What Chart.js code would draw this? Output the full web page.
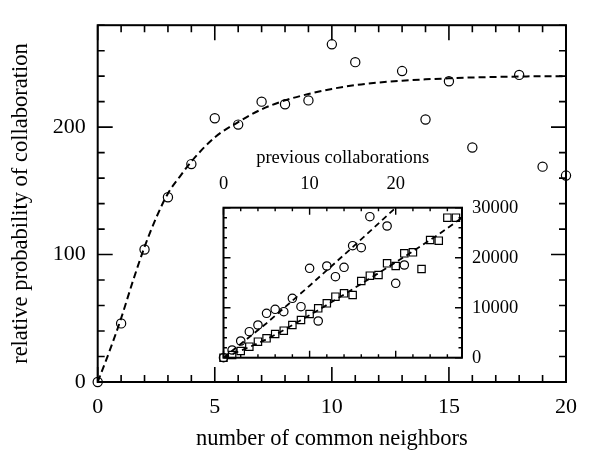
<!DOCTYPE html>
<html>
<head>
<meta charset="utf-8">
<script src="https://cdn.jsdelivr.net/npm/chart.js@4.4.0/dist/chart.umd.min.js"></script>
<style>
html, body { margin: 0; padding: 0; background: #fff; }
#wrap { position: relative; width: 589px; height: 455px; }
#wrap canvas { position: absolute; left: 0; top: 0; }
</style>
</head>
<body>
<div id="wrap">
  <canvas id="main" width="589" height="455"></canvas>
  <canvas id="inset" width="589" height="455"></canvas>
</div>
<script>
// main panel: relative probability vs number of common neighbors
var neighborsX = [0, 1, 2, 3, 4, 5, 6, 7, 8, 9, 10, 11, 13, 14, 15, 16, 18, 19, 20];
var probY = [0, 46, 104, 145, 171, 207, 202, 220, 218, 221, 265, 251, 244, 206, 236, 184, 241, 169, 162];
// dashed fit curve
var fitX = [0, 0.5, 1, 1.5, 2, 2.5, 3, 3.5, 4, 5, 6, 7, 8, 9, 10, 11, 12, 13, 14, 15, 16, 17, 18, 19, 20];
var fitY = [0, 24, 50, 79, 106, 129, 148, 161, 173, 192, 204, 214, 221, 226, 230, 233, 235, 236.5, 237.5, 238.3, 239, 239.4, 239.7, 240, 240];
var mainXTicks = [0, 5, 10, 15, 20];
var mainYTicks = [0, 100, 200];

// inset: previous collaborations
var circX = [0, 1, 2, 3, 4, 5, 6, 7, 8, 9, 10, 11, 12, 13, 14, 15, 16, 17, 19, 20, 21];
var circY = [0, 1540, 3340, 5200, 6540, 8880, 9680, 9200, 11880, 10200, 17880, 7340, 18340, 16200, 18080, 22400, 22000, 28200, 26340, 14880, 18540];
var sqX = [0, 1, 2, 3, 4, 5, 6, 7, 8, 9, 10, 11, 12, 13, 14, 15, 16, 17, 18, 19, 20, 21, 22, 23, 24, 25, 26, 27];
var sqY = [0, 540, 1340, 2200, 3200, 3880, 4740, 5400, 6540, 7540, 8740, 9880, 10880, 12200, 12880, 12540, 15340, 16400, 16540, 18880, 18340, 20880, 21080, 17740, 23540, 23400, 28000, 28000];
var circFitX = [0, 5, 10, 15, 20];
var circFitY = [0, 6900, 14400, 22100, 30000];
var sqFitX = [0, 5, 10, 15, 20, 25, 27.7];
var sqFitY = [0, 3700, 8500, 13700, 19100, 24700, 28000];
var insetXTicks = [0, 10, 20];
var insetYTicks = [0, 10000, 20000, 30000];

var serif = 'Liberation Serif';

function pts(xs, ys) {
  return xs.map(function(x, i) { return { x: x, y: ys[i] }; });
}
function range(a, b, step) {
  var out = [];
  for (var v = a; v <= b + 1e-9; v += step) out.push(v);
  return out;
}
function plain(v) { return String(v); }

// box around the plot with inward ticks on all four sides
function frameTicks(spec) {
  return {
    id: 'frameTicks',
    afterDraw: function(chart) {
      var ctx = chart.ctx, a = chart.chartArea;
      var sx = chart.scales[spec.x], sy = chart.scales[spec.y];
      ctx.save();
      ctx.strokeStyle = '#000';
      ctx.lineWidth = spec.tickWidth;
      ctx.beginPath();
      spec.xMinor.forEach(function(v) {
        var len = (Math.abs(v % spec.xMajor) < 1e-9) ? spec.major : spec.minor;
        var px = sx.getPixelForValue(v);
        ctx.moveTo(px, a.bottom); ctx.lineTo(px, a.bottom - len);
        ctx.moveTo(px, a.top); ctx.lineTo(px, a.top + len);
      });
      spec.yMinor.forEach(function(v) {
        var len = (Math.abs(v % spec.yMajor) < 1e-9) ? spec.major : spec.minor;
        var py = sy.getPixelForValue(v);
        ctx.moveTo(a.left, py); ctx.lineTo(a.left + len, py);
        ctx.moveTo(a.right, py); ctx.lineTo(a.right - len, py);
      });
      ctx.stroke();
      ctx.lineWidth = spec.boxWidth;
      ctx.strokeRect(a.left, a.top, a.right - a.left, a.bottom - a.top);
      ctx.restore();
    }
  };
}

var mainFont = { family: serif, size: 22 };
var titleFont = { family: serif, size: 22.5 };
new Chart(document.getElementById('main'), {
  type: 'scatter',
  data: {
    datasets: [
      {
        data: pts(fitX, fitY), showLine: true, borderColor: '#000', borderWidth: 2,
        borderDash: [7, 4], pointRadius: 0, cubicInterpolationMode: 'monotone', fill: false
      },
      {
        data: pts(neighborsX, probY), pointStyle: 'circle', pointRadius: 4.6,
        borderColor: '#000', backgroundColor: 'rgba(0,0,0,0)', borderWidth: 1.2, clip: false
      }
    ]
  },
  options: {
    responsive: false, devicePixelRatio: 1, animation: false,
    layout: { padding: { left: 0, right: 11.3, top: 8, bottom: 0 } },
    plugins: { legend: { display: false }, tooltip: { enabled: false } },
    scales: {
      x: {
        type: 'linear', position: 'bottom', min: 0, max: 20,
        grid: { display: false, drawTicks: false }, border: { display: false },
        afterBuildTicks: function(s) { s.ticks = mainXTicks.map(function(v) { return { value: v }; }); },
        afterFit: function(s) { s.height = 73; },
        ticks: { font: mainFont, color: '#000', padding: 12, maxRotation: 0, callback: plain },
        title: { display: true, text: 'number of common neighbors', font: titleFont, color: '#000', padding: { top: 0, bottom: 2 } }
      },
      y: {
        type: 'linear', position: 'left', min: 0, max: 280,
        grid: { display: false, drawTicks: false }, border: { display: false },
        afterBuildTicks: function(s) { s.ticks = mainYTicks.map(function(v) { return { value: v }; }); },
        afterFit: function(s) { s.width = 97.7; },
        ticks: { font: mainFont, color: '#000', padding: 12, callback: plain },
        title: { display: true, text: 'relative probability of collaboration', font: titleFont, color: '#000', padding: { top: 8, bottom: 0 } }
      }
    }
  },
  plugins: [frameTicks({
    x: 'x', y: 'y', xMinor: range(0, 20, 1), xMajor: 5, yMinor: range(0, 280, 20), yMajor: 100,
    major: 15, minor: 7, tickWidth: 1.6, boxWidth: 2
  })]
});

var insetFont = { family: serif, size: 18.5 };
new Chart(document.getElementById('inset'), {
  type: 'scatter',
  data: {
    datasets: [
      {
        data: pts(circFitX, circFitY), showLine: true, borderColor: '#000', borderWidth: 1.8,
        borderDash: [6, 4], pointRadius: 0, xAxisID: 'xt', yAxisID: 'yr'
      },
      {
        data: pts(sqFitX, sqFitY), showLine: true, borderColor: '#000', borderWidth: 1.8,
        borderDash: [6, 4], pointRadius: 0, cubicInterpolationMode: 'monotone', xAxisID: 'xt', yAxisID: 'yr'
      },
      {
        data: pts(circX, circY), pointStyle: 'circle', pointRadius: 4.2, borderColor: '#000',
        backgroundColor: 'rgba(0,0,0,0)', borderWidth: 1.2, clip: false, xAxisID: 'xt', yAxisID: 'yr'
      },
      {
        data: pts(sqX, sqY), pointStyle: 'rect', pointRadius: 5.2, borderColor: '#000',
        backgroundColor: 'rgba(0,0,0,0)', borderWidth: 1.2, clip: false, xAxisID: 'xt', yAxisID: 'yr'
      }
    ]
  },
  options: {
    responsive: false, devicePixelRatio: 1, animation: false,
    layout: { padding: { left: 223.5, right: 0, top: 140, bottom: 97.3 } },
    plugins: { legend: { display: false }, tooltip: { enabled: false } },
    scales: {
      xt: {
        type: 'linear', position: 'top', min: 0, max: 27.7,
        grid: { display: false, drawTicks: false }, border: { display: false },
        afterBuildTicks: function(s) { s.ticks = insetXTicks.map(function(v) { return { value: v }; }); },
        afterFit: function(s) { s.height = 67.7; },
        ticks: { font: insetFont, color: '#000', padding: 12, maxRotation: 0, callback: plain },
        title: { display: true, text: 'previous collaborations', font: insetFont, color: '#000', padding: { top: 7, bottom: 0 } }
      },
      yr: {
        type: 'linear', position: 'right', min: 0, max: 30000,
        grid: { display: false, drawTicks: false }, border: { display: false },
        afterBuildTicks: function(s) { s.ticks = insetYTicks.map(function(v) { return { value: v }; }); },
        afterFit: function(s) { s.width = 127; },
        ticks: { font: insetFont, color: '#000', padding: 10, callback: plain }
      }
    }
  },
  plugins: [frameTicks({
    x: 'xt', y: 'yr', xMinor: range(0, 26, 2), xMajor: 10, yMinor: range(0, 30000, 2000), yMajor: 10000,
    major: 7, minor: 3.5, tickWidth: 1.4, boxWidth: 2
  })]
});
</script>
</body>
</html>
